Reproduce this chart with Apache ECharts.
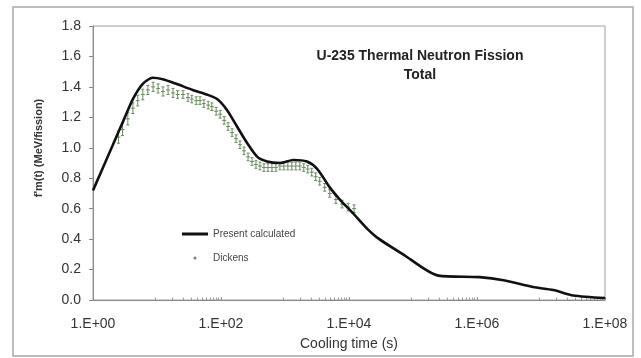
<!DOCTYPE html>
<html>
<head>
<meta charset="utf-8">
<script src="https://cdn.jsdelivr.net/npm/echarts@6/dist/echarts.min.js"></script>
<style>
  html, body { margin: 0; padding: 0; background: #ffffff; }
  #chart { width: 641px; height: 358px; }
</style>
</head>
<body>
<div id="chart"></div>
<script>
// Decay heat t·f(t) for U-235 thermal fission: calculated curve and Dickens measurements
const calcTime = [1, 1.3, 2, 3, 4.2, 6, 8.6, 12.3, 20, 36, 60, 87, 123, 178, 257, 370, 525, 830,
  1350, 2200, 3200, 5000, 7200, 11500, 19000, 27500, 70000, 250000, 1100000, 2600000,
  7500000, 15500000, 32000000, 100000000];
const calcValue = [0.72, 0.83, 1.01, 1.18, 1.32, 1.42, 1.46, 1.45, 1.42, 1.38, 1.35, 1.32, 1.25, 1.14,
  1.03, 0.94, 0.91, 0.90, 0.92, 0.91, 0.86, 0.74, 0.66, 0.57, 0.47, 0.41, 0.30, 0.16, 0.15, 0.13,
  0.085, 0.066, 0.03, 0.013];

const dickensTime = [2.5, 2.9, 3.5, 4.2, 5.0, 6.0, 7.2, 8.7, 10.4, 12.4, 14.9, 17.8, 21, 25.5, 30.5,
  35, 41, 47, 54, 63, 72, 84, 97, 112, 129, 149, 172, 198, 229, 265, 305, 352, 406, 469, 541, 625,
  721, 832, 960, 1108, 1279, 1476, 1703, 1965, 2268, 2617, 3020, 3485, 4170, 5000, 6240, 7800,
  9700, 12000];
const dickensValue = [1.07, 1.12, 1.19, 1.26, 1.31, 1.35, 1.38, 1.40, 1.39, 1.37, 1.38, 1.36, 1.35,
  1.35, 1.33, 1.32, 1.31, 1.31, 1.29, 1.28, 1.27, 1.24, 1.22, 1.18, 1.14, 1.10, 1.06, 1.02, 0.98,
  0.94, 0.91, 0.89, 0.88, 0.87, 0.87, 0.87, 0.87, 0.88, 0.88, 0.88, 0.88, 0.88, 0.88, 0.87, 0.86,
  0.84, 0.81, 0.78, 0.74, 0.70, 0.66, 0.63, 0.61, 0.60];
const dickensErr = [0.04, 0.04, 0.04, 0.035, 0.035, 0.035, 0.03, 0.03, 0.03, 0.03, 0.03, 0.03, 0.025,
  0.025, 0.025, 0.025, 0.025, 0.025, 0.025, 0.025, 0.025, 0.025, 0.025, 0.025, 0.025, 0.025, 0.025,
  0.025, 0.025, 0.025, 0.025, 0.025, 0.025, 0.025, 0.025, 0.025, 0.025, 0.025, 0.025, 0.025, 0.025,
  0.025, 0.025, 0.025, 0.025, 0.025, 0.025, 0.025, 0.025, 0.025, 0.025, 0.025, 0.025, 0.025];

const yTicks = { min: 0, max: 1.8, step: 0.2 };
const titleLines = ['U-235 Thermal Neutron Fission', 'Total'];
const seriesNames = ['Present calculated', 'Dickens'];

const calcData = calcTime.map((t, i) => [t, calcValue[i]]);
const dickensData = dickensTime.map((t, i) => [t, dickensValue[i], dickensErr[i]]);

const FONT = 'Liberation Sans, Arial, sans-serif';
const DICKENS_COLOR = '#6a8a5c';

const chart = echarts.init(document.getElementById('chart'), null, { renderer: 'canvas' });

chart.setOption({
  animation: false,
  backgroundColor: '#ffffff',
  title: {
    text: titleLines.join('\n'),
    left: 415,
    top: 42,
    textAlign: 'center',
    textStyle: { fontFamily: FONT, fontSize: 14, fontWeight: 'bold', color: '#222', lineHeight: 19 }
  },
  graphic: [{
    type: 'rect',
    shape: { x: 13, y: 7, width: 620, height: 349 },
    style: { fill: 'none', stroke: '#a8a8a8', lineWidth: 1.5 },
    silent: true,
    z: -1
  }],
  legend: {
    orient: 'vertical',
    left: 177,
    top: 224,
    itemGap: 14,
    itemWidth: 26,
    itemHeight: 3,
    textStyle: { fontFamily: FONT, fontSize: 10, color: '#444' },
    data: [
      { name: seriesNames[0], icon: 'rect', itemStyle: { color: '#111' } },
      { name: seriesNames[1], icon: 'circle' }
    ]
  },
  grid: {
    left: 93, right: 36, top: 26, bottom: 58,
    show: true, borderColor: '#a0a0a0', borderWidth: 1
  },
  xAxis: {
    type: 'log',
    logBase: 100,
    min: 1,
    max: 1e8,
    name: 'Cooling time (s)',
    nameLocation: 'middle',
    nameGap: 37,
    nameTextStyle: { fontFamily: FONT, fontSize: 14, color: '#333' },
    axisLine: { lineStyle: { color: '#8a8a8a', width: 1 } },
    axisTick: { show: true, inside: true, length: 3, lineStyle: { color: '#8a8a8a' } },
    minorTick: { show: true, splitNumber: 12, length: 2.5, lineStyle: { color: '#9a9a9a' } },
    splitLine: { show: false },
    axisLabel: {
      margin: 17,
      fontFamily: FONT, fontSize: 14, color: '#333',
      formatter: v => '1.E+' + String(Math.round(Math.log10(v))).padStart(2, '0')
    }
  },
  yAxis: {
    type: 'value',
    min: yTicks.min,
    max: yTicks.max,
    interval: yTicks.step,
    name: "f'm(t) (MeV/fission)",
    nameLocation: 'middle',
    nameGap: 49,
    nameTextStyle: { fontFamily: FONT, fontSize: 11, fontWeight: 'bold', color: '#333', padding: [0, 0, 0, 30] },
    axisLine: { show: true, lineStyle: { color: '#8a8a8a', width: 1 } },
    axisTick: { show: true, inside: false, length: 4, lineStyle: { color: '#8a8a8a' } },
    splitLine: { show: false },
    axisLabel: {
      margin: 12,
      fontFamily: FONT, fontSize: 14, color: '#333',
      formatter: v => v.toFixed(1)
    }
  },
  series: [
    {
      name: seriesNames[1],
      type: 'custom',
      itemStyle: { color: DICKENS_COLOR },
      data: dickensData,
      encode: { x: 0, y: 1 },
      renderItem: function (params, api) {
        const t = api.value(0);
        const v = api.value(1);
        const e = api.value(2);
        const c = api.coord([t, v]);
        const hi = api.coord([t, v + e]);
        const lo = api.coord([t, v - e]);
        const style = { stroke: DICKENS_COLOR, lineWidth: 1 };
        return {
          type: 'group',
          children: [
            { type: 'line', shape: { x1: c[0], y1: hi[1], x2: c[0], y2: lo[1] }, style: style },
            { type: 'line', shape: { x1: c[0] - 1.5, y1: hi[1], x2: c[0] + 1.5, y2: hi[1] }, style: style },
            { type: 'line', shape: { x1: c[0] - 1.5, y1: lo[1], x2: c[0] + 1.5, y2: lo[1] }, style: style },
            { type: 'line', shape: { x1: c[0] - 2, y1: c[1], x2: c[0] + 2, y2: c[1] }, style: style }
          ]
        };
      },
      z: 2
    },
    {
      name: seriesNames[0],
      type: 'line',
      data: calcData,
      smooth: 0.25,
      showSymbol: false,
      symbol: 'none',
      lineStyle: { color: '#111', width: 2.6 },
      itemStyle: { color: '#111' },
      z: 3
    }
  ]
});
</script>
</body>
</html>
